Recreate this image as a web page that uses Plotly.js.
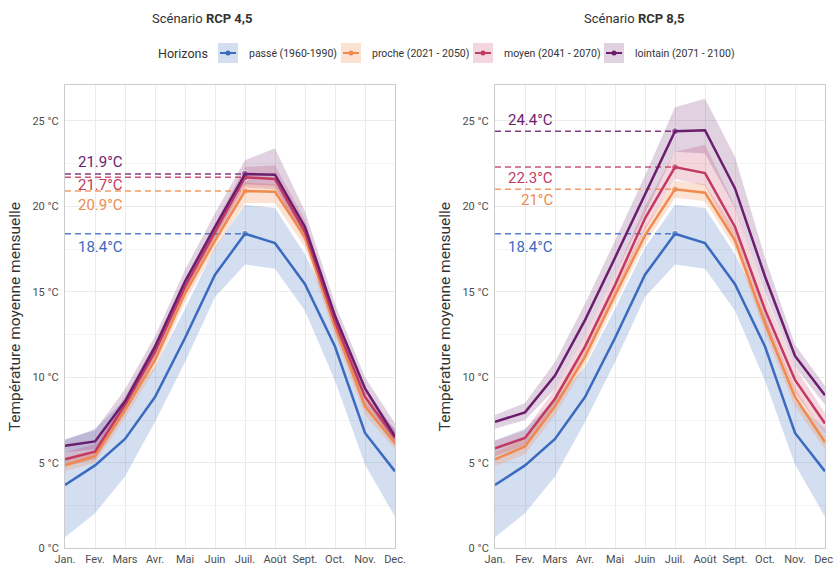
<!DOCTYPE html>
<html>
<head>
<meta charset="utf-8">
<script src="https://cdn.plot.ly/plotly-3.0.1.min.js"></script>
<style>html,body{margin:0;padding:0;background:#fff;}#chart{width:834px;height:565px;}</style>
</head>
<body>
<div id="chart"></div>
<script>
// ---------- DATA ----------
const months = ['Jan.','Fev.','Mars','Avr.','Mai','Juin','Juil.','Août','Sept.','Oct.','Nov.','Dec.'];
const horizons = ['passé (1960-1990)','proche (2021 - 2050)','moyen (2041 - 2070)','lointain (2071 - 2100)'];
const scenarios = ['RCP 4,5','RCP 8,5'];
const refMonth = 'Juil.';

// historical reference (same in both panels)
const passe   = [3.7, 4.85, 6.4, 8.85, 12.3, 16.0, 18.4, 17.85, 15.45, 11.8, 6.75, 4.5];
const passeLo = [0.65, 2.05, 4.2, 7.4, 10.9, 14.7, 16.6, 16.35, 13.9, 9.8, 4.9, 1.85];
const passeHi = [6.3, 7.0, 8.7, 10.6, 14.0, 17.6, 20.1, 19.9, 17.2, 13.6, 8.6, 7.0];

// RCP 4.5
const proche45   = [4.85, 5.4, 8.1, 11.0, 14.9, 18.0, 20.9, 20.85, 18.2, 12.95, 8.3, 6.15];
const proche45Lo = [4.5, 5.0, 7.6, 10.5, 14.4, 17.5, 20.2, 20.2, 17.6, 12.4, 7.8, 5.8];
const proche45Hi = [5.3, 5.8, 8.5, 11.4, 15.3, 18.4, 21.4, 21.3, 18.7, 13.4, 8.7, 6.5];
const moyen45    = [5.2, 5.65, 8.4, 11.5, 15.3, 18.5, 21.7, 21.6, 18.5, 13.25, 8.85, 6.45];
const moyen45Lo  = [4.8, 5.2, 7.9, 11.0, 14.8, 18.0, 21.1, 21.0, 17.9, 12.7, 8.3, 6.0];
const moyen45Hi  = [5.6, 6.1, 8.9, 12.0, 15.8, 19.0, 22.3, 22.4, 19.2, 13.8, 9.4, 6.9];
const lointain45   = [6.0, 6.25, 8.6, 11.8, 15.6, 18.8, 21.9, 21.85, 18.8, 13.6, 9.35, 6.55];
const lointain45Lo = [5.6, 5.8, 8.1, 11.2, 15.0, 18.2, 21.3, 21.2, 18.0, 12.9, 8.8, 6.1];
const lointain45Hi = [6.4, 6.9, 9.3, 12.4, 16.3, 19.6, 22.7, 23.4, 19.7, 14.3, 10.0, 7.3];

// RCP 8.5
const proche85   = [5.2, 5.95, 8.3, 11.2, 14.8, 18.3, 21.0, 20.8, 18.0, 13.15, 8.85, 6.2];
const proche85Lo = [4.8, 5.5, 7.8, 10.7, 14.3, 17.8, 20.5, 20.3, 17.5, 12.6, 8.3, 5.8];
const proche85Hi = [5.6, 6.4, 8.8, 11.7, 15.3, 18.8, 21.5, 21.3, 18.6, 13.7, 9.4, 6.6];
const moyen85    = [5.85, 6.45, 8.75, 11.8, 15.4, 19.3, 22.3, 21.95, 18.8, 13.95, 9.85, 7.3];
const moyen85Lo  = [5.4, 6.0, 8.2, 11.2, 14.8, 18.6, 21.6, 21.2, 18.0, 13.2, 9.1, 6.7];
const moyen85Hi  = [6.3, 6.9, 9.3, 12.4, 16.0, 20.0, 23.2, 23.6, 20.0, 14.8, 10.6, 7.9];
const lointain85   = [7.4, 7.95, 10.1, 13.35, 17.0, 20.7, 24.4, 24.45, 21.05, 15.9, 11.25, 8.95];
const lointain85Lo = [7.0, 7.5, 9.3, 12.4, 16.0, 19.6, 23.2, 23.1, 19.9, 14.9, 10.6, 8.4];
const lointain85Hi = [7.8, 8.5, 10.9, 14.3, 18.0, 21.8, 25.8, 26.3, 22.9, 17.0, 11.9, 9.5];

// ---------- STYLE ----------
const W = 834, H = 565;
const lineColors = ['#3a6bbf', '#f08a4e', '#c23a62', '#6b1d6e'];
const bandColors = ['rgba(58,107,191,0.22)', 'rgba(242,140,79,0.25)', 'rgba(196,48,88,0.2)', 'rgba(107,29,110,0.2)'];
const labelShift = [[-13, -14, -8, 11.5], [-13, -11, -11, 11]];
const FONT = 'Roboto, "Noto Sans", sans-serif';
const px = x => x / W;
const py = y => 1 - y / H;

const panels = [
  {xa: 'x', ya: 'y', series: [[passe, passeLo, passeHi], [proche45, proche45Lo, proche45Hi], [moyen45, moyen45Lo, moyen45Hi], [lointain45, lointain45Lo, lointain45Hi]]},
  {xa: 'x2', ya: 'y2', series: [[passe, passeLo, passeHi], [proche85, proche85Lo, proche85Hi], [moyen85, moyen85Lo, moyen85Hi], [lointain85, lointain85Lo, lointain85Hi]]}
];

const refIdx = months.indexOf(refMonth);
const fmt = v => (Math.round(v * 10) / 10).toString();

const traces = [];
const annotations = [];
panels.forEach((p, pi) => {
  // bands
  p.series.forEach((s, si) => {
    traces.push({x: months, y: s[1], xaxis: p.xa, yaxis: p.ya, mode: 'lines', line: {width: 0, color: bandColors[si]}, showlegend: false, hoverinfo: 'skip'});
    traces.push({x: months, y: s[2], xaxis: p.xa, yaxis: p.ya, mode: 'lines', line: {width: 0, color: bandColors[si]}, fill: 'tonexty', fillcolor: bandColors[si], showlegend: false, hoverinfo: 'skip'});
  });
  // reference dashed lines + July dot
  p.series.forEach((s, si) => {
    const v = s[0][refIdx];
    traces.push({x: [months[0], refMonth], y: [v, v], xaxis: p.xa, yaxis: p.ya, mode: 'lines+markers',
      line: {color: lineColors[si], width: 1.5, dash: '6px,4px'}, opacity: 0.85,
      marker: {size: [0, 7], color: lineColors[si]}, showlegend: false, hoverinfo: 'skip'});
    annotations.push({xref: p.xa, yref: p.ya, x: 'Mars', y: v, text: fmt(v) + '°C', xanchor: 'right', yanchor: 'middle',
      yshift: labelShift[pi][si], showarrow: false, font: {family: FONT, size: 15, color: lineColors[si]}});
  });
  // main lines
  p.series.forEach((s, si) => {
    traces.push({x: months, y: s[0], xaxis: p.xa, yaxis: p.ya, mode: 'lines', name: horizons[si],
      line: {color: lineColors[si], width: 2.5}, showlegend: false});
  });
});

// subtitles
[[202, scenarios[0]], [634, scenarios[1]]].forEach(([cx, t]) => {
  annotations.push({xref: 'paper', yref: 'paper', x: px(cx), y: py(18), text: 'Scénario <b>' + t + '</b>', showarrow: false,
    xanchor: 'center', yanchor: 'middle', font: {family: FONT, size: 13, color: '#333'}});
});

// legend (drawn manually to mimic ggplot keys)
const shapes = [];
annotations.push({xref: 'paper', yref: 'paper', x: px(210), y: py(53), text: 'Horizons', showarrow: false, xanchor: 'right', yanchor: 'middle',
  font: {family: FONT, size: 12.5, color: '#333'}});
const keyX = [218, 341, 473, 604];
horizons.forEach((h, i) => {
  const k = keyX[i];
  shapes.push({type: 'rect', xref: 'paper', yref: 'paper', x0: px(k), x1: px(k + 20), y0: py(63), y1: py(43), fillcolor: bandColors[i], line: {width: 0}});
  shapes.push({type: 'line', xref: 'paper', yref: 'paper', x0: px(k + 2), x1: px(k + 18), y0: py(53), y1: py(53), line: {color: lineColors[i], width: 2}});
  shapes.push({type: 'circle', xref: 'paper', yref: 'paper', x0: px(k + 7.5), x1: px(k + 12.5), y0: py(55.5), y1: py(50.5), fillcolor: lineColors[i], line: {width: 0}});
  annotations.push({xref: 'paper', yref: 'paper', x: px(k + 29), y: py(53), text: h, showarrow: false, xanchor: 'left', yanchor: 'middle',
    font: {family: FONT, size: 10.5, color: '#333'}});
});

const xBase = {type: 'category', range: [0, 11], showgrid: true, gridcolor: '#ebebeb', gridwidth: 1, showline: true, mirror: true,
  linecolor: '#cccccc', linewidth: 1, ticks: '', tickfont: {family: FONT, size: 11, color: '#4d4d4d'}, zeroline: false, fixedrange: true};
const yBase = {range: [0, 27.1], tick0: 0, dtick: 5, ticksuffix: ' °C', showgrid: true, gridcolor: '#ebebeb', gridwidth: 1,
  minor: {tick0: 0, dtick: 2.5, showgrid: true, gridcolor: '#f4f4f4', gridwidth: 1},
  showline: true, mirror: true, linecolor: '#cccccc', linewidth: 1, ticks: '', ticklabelstandoff: 3, zeroline: false,
  tickfont: {family: FONT, size: 11, color: '#4d4d4d'},
  title: {text: 'Température moyenne mensuelle', standoff: 7, font: {family: FONT, size: 15.5, color: '#333'}}, fixedrange: true};

const layout = {
  width: W, height: H, margin: {l: 0, r: 0, t: 0, b: 0}, paper_bgcolor: '#fff', plot_bgcolor: '#fff', showlegend: false,
  font: {family: FONT, color: '#333'},
  xaxis: Object.assign({}, xBase, {domain: [px(65), px(395)], anchor: 'y'}),
  yaxis: Object.assign({}, yBase, {domain: [py(548.3), py(85)], anchor: 'x'}),
  xaxis2: Object.assign({}, xBase, {domain: [px(495), px(825)], anchor: 'y2'}),
  yaxis2: Object.assign({}, yBase, {domain: [py(548.3), py(85)], anchor: 'x2'}),
  annotations: annotations, shapes: shapes
};

Plotly.newPlot('chart', traces, layout, {displayModeBar: false, staticPlot: true});
</script>
</body>
</html>
